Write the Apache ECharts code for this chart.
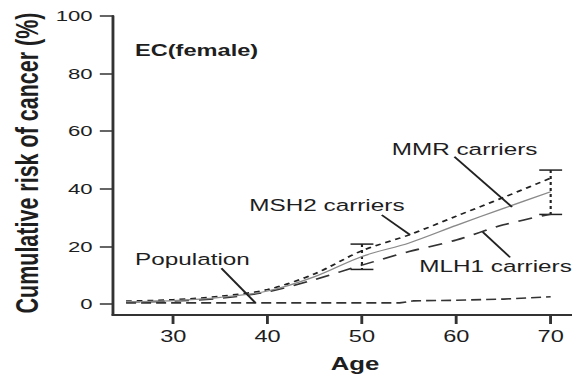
<!DOCTYPE html>
<html>
<head>
<meta charset="utf-8">
<script src="https://cdn.jsdelivr.net/npm/echarts@6/dist/echarts.min.js"></script>
<style>
  html, body { margin: 0; padding: 0; background: #fff; overflow: hidden; }
  /* the figure is laid out at 400px wide and widened to 572px */
  #chart { width: 400px; height: 376px; transform: scaleX(1.43); transform-origin: 0 0; }
</style>
</head>
<body>
<div id="chart"></div>
<script>
// Cumulative risk of endometrial cancer (female) by age
const carrierAges = [25, 30, 35, 40, 45, 50, 55, 60, 65, 70];
const mmrRisk  = [0.8, 1.2, 2.3, 4.5, 9.5, 16.5, 21.2, 27.3, 33.2, 39.0];
const msh2Risk = [1.0, 1.5, 2.7, 5.0, 10.5, 18.5, 24.0, 30.5, 37.0, 43.7];
const mlh1Risk = [0.7, 1.0, 2.0, 4.2, 8.5, 13.5, 18.2, 22.2, 27.5, 31.2];

const popAges = [25, 54, 55.5, 60, 65, 70];
const popRisk = [0.4, 0.4, 1.1, 1.3, 1.7, 2.5];

// confidence interval of MMR carriers: [age, lower, upper]
const ciAges  = [50, 70];
const ciLower = [12.0, 31.1];
const ciUpper = [20.8, 46.5];

const xTicks = [30, 40, 50, 60, 70];
const yTicks = [0, 20, 40, 60, 80, 100];

// label leader lines, in data units: [fromAge, fromRisk, toAge, toRisk]
const leaderPopulation = [35.1, 12.4, 38.7, 0.45];
const leaderMSH2 = [52.1, 30.9, 55.1, 24.0];
const leaderMMR  = [59.8, 51.1, 65.9, 33.7];
const leaderMLH1 = [62.8, 25.0, 65.7, 16.2];

const pairs = (xs, ys) => xs.map((x, i) => [x, ys[i]]);
const leader = (l) => ({
  type: 'line', silent: true, symbol: 'none', z: 5,
  data: [[l[0], l[1]], [l[2], l[3]]],
  lineStyle: { color: '#222', width: 1.5 }
});

const ink = '#1e1e1e';
const font = '"Liberation Sans", Arial, Helvetica, sans-serif';

const chart = echarts.init(document.getElementById('chart'), null, { renderer: 'svg' });
chart.setOption({
  animation: false,
  backgroundColor: '#fff',
  grid: { left: 78.8, right: 0, top: 16, bottom: 61 },
  xAxis: {
    type: 'value', min: 23.58, max: 72.26,
    axisLine: { show: true, onZero: false, lineStyle: { color: '#333', width: 2 } },
    axisTick: { show: true, length: 9, customValues: xTicks, lineStyle: { color: '#333', width: 2 } },
    axisLabel: { customValues: xTicks, margin: 13, fontSize: 16.5, color: ink, fontFamily: font },
    splitLine: { show: false }
  },
  yAxis: {
    type: 'value', min: -3.82, max: 100,
    axisLine: { show: true, onZero: false, lineStyle: { color: '#333', width: 2 } },
    axisTick: { show: true, length: 9, customValues: yTicks, lineStyle: { color: '#333', width: 1.5 } },
    axisLabel: { customValues: yTicks, margin: 14, fontSize: 15.5, color: ink, fontFamily: font },
    splitLine: { show: false }
  },
  series: [
    {
      name: 'Population', type: 'line', symbol: 'none',
      data: pairs(popAges, popRisk),
      lineStyle: { color: '#333', width: 1.6, type: [7, 3.5] }
    },
    {
      name: 'MLH1 carriers', type: 'line', symbol: 'none', smooth: 0.3,
      data: pairs(carrierAges, mlh1Risk),
      lineStyle: { color: '#333', width: 1.6, type: [10, 7] }
    },
    {
      name: 'MSH2 carriers', type: 'line', symbol: 'none', smooth: 0.3,
      data: pairs(carrierAges, msh2Risk),
      lineStyle: { color: '#222', width: 1.6, type: [4, 3.5] }
    },
    {
      name: 'MMR carriers', type: 'line', symbol: 'none', smooth: 0.3,
      data: pairs(carrierAges, mmrRisk),
      lineStyle: { color: '#8a8a8a', width: 1.2 }
    },
    {
      name: 'MMR CI', type: 'custom', silent: true,
      data: ciAges.map((a, i) => [a, ciLower[i], ciUpper[i]]),
      renderItem: (params, api) => {
        const lo = api.coord([api.value(0), api.value(1)]);
        const hi = api.coord([api.value(0), api.value(2)]);
        const half = 8;
        const st = { stroke: '#222', lineWidth: 1.5 };
        return {
          type: 'group',
          children: [
            { type: 'line', shape: { x1: hi[0], y1: hi[1], x2: lo[0], y2: lo[1] },
              style: Object.assign({ lineDash: [3, 3] }, st) },
            { type: 'line', shape: { x1: hi[0] - half, y1: hi[1], x2: hi[0] + half, y2: hi[1] }, style: st },
            { type: 'line', shape: { x1: lo[0] - half, y1: lo[1], x2: lo[0] + half, y2: lo[1] }, style: st }
          ]
        };
      }
    },
    leader(leaderPopulation),
    leader(leaderMSH2),
    leader(leaderMMR),
    leader(leaderMLH1)
  ],
  graphic: [
    { type: 'text', left: 94.4, top: 42, style: { text: 'EC(female)', fontSize: 16.5, fontWeight: 'bold', fill: ink, fontFamily: font } },
    { type: 'text', left: 94.4, top: 250, style: { text: 'Population', fontSize: 17, fill: ink, fontFamily: font } },
    { type: 'text', left: 174.3, top: 196.5, style: { text: 'MSH2 carriers', fontSize: 17, fill: ink, fontFamily: font } },
    { type: 'text', left: 273.9, top: 140.5, style: { text: 'MMR carriers', fontSize: 17, fill: ink, fontFamily: font } },
    { type: 'text', left: 293.2, top: 257, style: { text: 'MLH1 carriers', fontSize: 17, fill: ink, fontFamily: font } },
    { type: 'text', x: 248.3, y: 364, style: { text: 'Age', fontSize: 18, fontWeight: 'bold', fill: ink, fontFamily: font, align: 'center', verticalAlign: 'middle' } },
    { type: 'text', x: 19, y: 163, rotation: Math.PI / 2,
      style: { text: 'Cumulative risk of cancer (%)', fontSize: 21.5, fontWeight: 'bold', fill: ink, fontFamily: font, align: 'center', verticalAlign: 'middle' } }
  ]
});
</script>
</body>
</html>
